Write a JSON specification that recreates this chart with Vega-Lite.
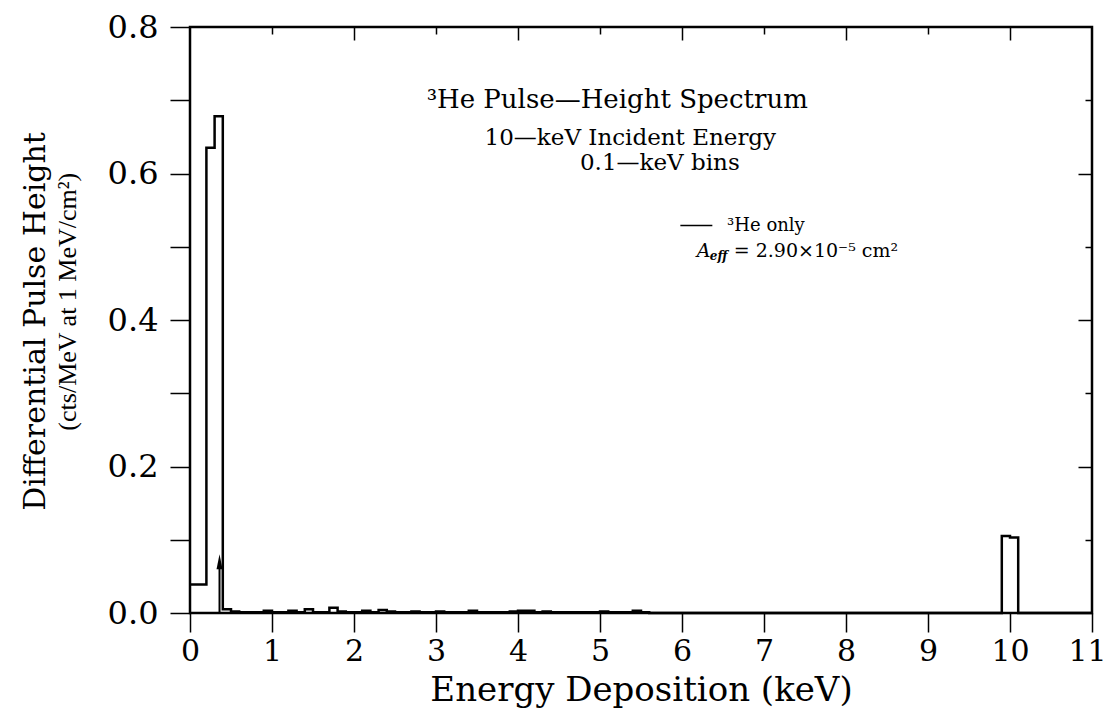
{
  "$schema": "https://vega.github.io/schema/vega-lite/v6.json",
  "width": 902,
  "height": 586,
  "autosize": {"type": "none"},
  "padding": {"left": 190, "top": 27, "right": 16, "bottom": 102},
  "background": "white",
  "config": {
    "view": {"stroke": "black", "strokeWidth": 2.5},
    "axis": {"domain": false, "grid": false, "tickColor": "black", "labelColor": "black", "titleColor": "black", "labelFont": "DejaVu Serif", "titleFont": "DejaVu Serif", "titleFontWeight": "normal"},
    "text": {"font": "DejaVu Serif", "color": "black"}
  },
  "resolve": {"axis": {"x": "independent", "y": "independent"}},
  "layer": [
    {
      "data": {"values": [
        {"e": 0.0, "h": 0.039}, {"e": 0.1, "h": 0.039}, {"e": 0.2, "h": 0.635}, {"e": 0.3, "h": 0.678},
        {"e": 0.4, "h": 0.005}, {"e": 0.5, "h": 0.002}, {"e": 0.6, "h": 0.001}, {"e": 0.7, "h": 0.001},
        {"e": 0.8, "h": 0.001}, {"e": 0.9, "h": 0.003}, {"e": 1.0, "h": 0.001}, {"e": 1.1, "h": 0.001},
        {"e": 1.2, "h": 0.003}, {"e": 1.3, "h": 0.001}, {"e": 1.4, "h": 0.005}, {"e": 1.5, "h": 0.001},
        {"e": 1.6, "h": 0.001}, {"e": 1.7, "h": 0.007}, {"e": 1.8, "h": 0.002}, {"e": 1.9, "h": 0.001},
        {"e": 2.0, "h": 0.001}, {"e": 2.1, "h": 0.003}, {"e": 2.2, "h": 0.001}, {"e": 2.3, "h": 0.004},
        {"e": 2.4, "h": 0.002}, {"e": 2.5, "h": 0.001}, {"e": 2.6, "h": 0.001}, {"e": 2.7, "h": 0.002},
        {"e": 2.8, "h": 0.001}, {"e": 2.9, "h": 0.001}, {"e": 3.0, "h": 0.002}, {"e": 3.1, "h": 0.001},
        {"e": 3.2, "h": 0.001}, {"e": 3.3, "h": 0.001}, {"e": 3.4, "h": 0.003}, {"e": 3.5, "h": 0.001},
        {"e": 3.6, "h": 0.001}, {"e": 3.7, "h": 0.001}, {"e": 3.8, "h": 0.001}, {"e": 3.9, "h": 0.002},
        {"e": 4.0, "h": 0.003}, {"e": 4.1, "h": 0.003}, {"e": 4.2, "h": 0.001}, {"e": 4.3, "h": 0.002},
        {"e": 4.4, "h": 0.001}, {"e": 4.5, "h": 0.001}, {"e": 4.6, "h": 0.001}, {"e": 4.7, "h": 0.001},
        {"e": 4.8, "h": 0.001}, {"e": 4.9, "h": 0.001}, {"e": 5.0, "h": 0.002}, {"e": 5.1, "h": 0.001},
        {"e": 5.2, "h": 0.001}, {"e": 5.3, "h": 0.001}, {"e": 5.4, "h": 0.003}, {"e": 5.5, "h": 0.001},
        {"e": 5.6, "h": 0.0}, {"e": 9.9, "h": 0.105}, {"e": 10.0, "h": 0.103}, {"e": 10.1, "h": 0.0},
        {"e": 11.0, "h": 0.0}
      ]},
      "mark": {"type": "line", "interpolate": "step-after", "color": "black", "strokeWidth": 2.5},
      "encoding": {
        "x": {"field": "e", "type": "quantitative", "scale": {"domain": [0, 11], "nice": false},
          "axis": {"orient": "bottom", "values": [0, 1, 2, 3, 4, 5, 6, 7, 8, 9, 10, 11], "tickSize": 19, "tickWidth": 1.5,
            "labelFontSize": 30, "labelBaseline": "alphabetic", "labelPadding": 28, "labelFlush": false, "labelOverlap": false,
            "labelOffset": {"condition": {"test": "datum.value === 11", "value": -5}, "value": 0},
            "title": "Energy Deposition (keV)", "titleFontSize": 34, "titleBaseline": "alphabetic", "titleY": 87}},
        "y": {"field": "h", "type": "quantitative", "scale": {"domain": [0, 0.8], "nice": false},
          "axis": {"orient": "left", "values": [0, 0.1, 0.2, 0.3, 0.4, 0.5, 0.6, 0.7, 0.8], "tickSize": 20, "tickWidth": 1.5,
            "labelFontSize": 32, "labelPadding": 12, "labelOverlap": false, "labelFlush": false,
            "labelExpr": "round(datum.value * 10) % 2 === 0 ? format(datum.value, '.1f') : ''",
            "title": "Differential Pulse Height", "titleFontSize": 30, "titleX": -155, "titleY": 294,
            "titleBaseline": "middle", "titleAngle": 270}}
      }
    },
    {
      "data": {"values": [{"e": 0.36, "h0": 0.0, "h1": 0.07}]},
      "mark": {"type": "rule", "color": "black", "strokeWidth": 2},
      "encoding": {
        "x": {"field": "e", "type": "quantitative", "scale": {"domain": [0, 11], "nice": false},
          "axis": {"orient": "top", "values": [2, 4, 6, 8, 10], "tickSize": -13, "tickWidth": 1.5, "labels": false, "title": null}},
        "y": {"field": "h0", "type": "quantitative", "scale": {"domain": [0, 0.8], "nice": false},
          "axis": {"orient": "right", "values": [0.2, 0.4, 0.6], "tickSize": -14, "tickWidth": 1.5, "labels": false, "title": null}},
        "y2": {"field": "h1"}
      }
    },
    {
      "data": {"values": [{"e": 0.36, "h": 0.0698}]},
      "mark": {"type": "point", "shape": "M0,-1L0.4,1L-0.4,1Z", "filled": true, "color": "black", "size": 225, "opacity": 1, "strokeWidth": 0},
      "encoding": {
        "x": {"field": "e", "type": "quantitative", "scale": {"domain": [0, 11], "nice": false},
          "axis": {"orient": "top", "values": [1, 3, 5, 7, 9], "tickSize": -7, "tickWidth": 1.5, "labels": false, "title": null}},
        "y": {"field": "h", "type": "quantitative", "scale": {"domain": [0, 0.8], "nice": false},
          "axis": {"orient": "right", "values": [0.1, 0.3, 0.5, 0.7], "tickSize": -7, "tickWidth": 1.5, "labels": false, "title": null}}
      }
    },
    {
      "data": {"values": [{"label": "³He Pulse—Height Spectrum", "e": 5.21, "h": 0.7}]},
      "mark": {"type": "text", "fontSize": 26, "align": "center", "baseline": "middle"},
      "encoding": {
        "x": {"field": "e", "type": "quantitative", "scale": {"domain": [0, 11], "nice": false}, "axis": null},
        "y": {"field": "h", "type": "quantitative", "scale": {"domain": [0, 0.8], "nice": false}, "axis": null},
        "text": {"field": "label"}
      }
    },
    {
      "data": {"values": [
        {"label": "10—keV Incident Energy", "e": 5.37, "h": 0.649},
        {"label": "0.1—keV bins", "e": 5.73, "h": 0.614}
      ]},
      "mark": {"type": "text", "fontSize": 23, "align": "center", "baseline": "middle"},
      "encoding": {
        "x": {"field": "e", "type": "quantitative", "scale": {"domain": [0, 11], "nice": false}, "axis": null},
        "y": {"field": "h", "type": "quantitative", "scale": {"domain": [0, 0.8], "nice": false}, "axis": null},
        "text": {"field": "label"}
      }
    },
    {
      "data": {"values": [{"e0": 5.98, "e1": 6.37, "h": 0.529}]},
      "mark": {"type": "rule", "color": "black", "strokeWidth": 1.5},
      "encoding": {
        "x": {"field": "e0", "type": "quantitative", "scale": {"domain": [0, 11], "nice": false}, "axis": null},
        "x2": {"field": "e1"},
        "y": {"field": "h", "type": "quantitative", "scale": {"domain": [0, 0.8], "nice": false}, "axis": null}
      }
    },
    {
      "data": {"values": [{"label": "³He only", "e": 6.55, "h": 0.529}]},
      "mark": {"type": "text", "fontSize": 18, "align": "left", "baseline": "middle"},
      "encoding": {
        "x": {"field": "e", "type": "quantitative", "scale": {"domain": [0, 11], "nice": false}, "axis": null},
        "y": {"field": "h", "type": "quantitative", "scale": {"domain": [0, 0.8], "nice": false}, "axis": null},
        "text": {"field": "label"}
      }
    },
    {
      "data": {"values": [{"e": 6.18, "h": 0.494}]},
      "layer": [
        {"mark": {"type": "text", "text": "A", "fontSize": 19, "fontStyle": "italic", "align": "left", "baseline": "middle"}},
        {"mark": {"type": "text", "text": "eff", "fontSize": 12, "fontStyle": "italic", "fontWeight": "bold", "align": "left", "baseline": "middle", "dx": 13, "dy": 5}},
        {"mark": {"type": "text", "text": "= 2.90×10⁻⁵ cm²", "fontSize": 19, "align": "left", "baseline": "middle", "dx": 37}}
      ],
      "encoding": {
        "x": {"field": "e", "type": "quantitative", "scale": {"domain": [0, 11], "nice": false}, "axis": null},
        "y": {"field": "h", "type": "quantitative", "scale": {"domain": [0, 0.8], "nice": false}, "axis": null}
      }
    },
    {
      "data": {"values": [{"label": "(cts/MeV at 1 MeV/cm²)", "e": -1.49, "h": 0.425}]},
      "mark": {"type": "text", "font": "Liberation Serif", "fontSize": 26, "angle": 270, "align": "center", "baseline": "middle"},
      "encoding": {
        "x": {"field": "e", "type": "quantitative", "scale": {"domain": [0, 11], "nice": false}, "axis": null},
        "y": {"field": "h", "type": "quantitative", "scale": {"domain": [0, 0.8], "nice": false}, "axis": null},
        "text": {"field": "label"}
      }
    }
  ]
}
